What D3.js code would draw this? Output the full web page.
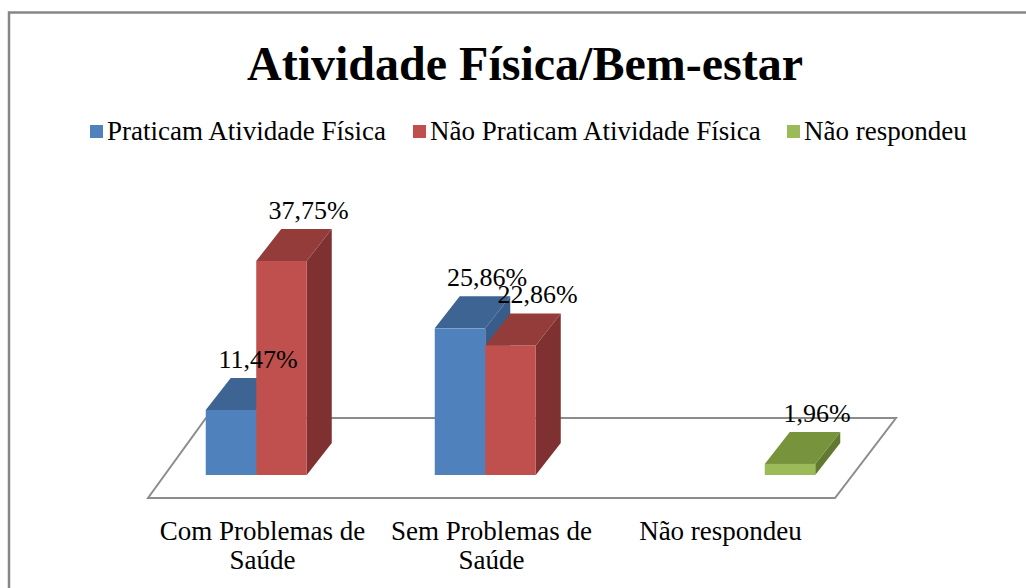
<!DOCTYPE html>
<html>
<head>
<meta charset="utf-8">
<script src="https://cdn.jsdelivr.net/npm/d3@7"></script>
<style>
  body { margin: 0; background: #fff; }
  svg text { font-family: 'Liberation Serif', 'Times New Roman', Times, 'DejaVu Serif', serif; fill: #000; }
</style>
</head>
<body>
<svg id="canvas"></svg>
<script>
let categories = [['Com Problemas de', 'Saúde'], ['Sem Problemas de', 'Saúde'], ['Não respondeu']]
let seriesNames = ['Praticam Atividade Física', 'Não Praticam Atividade Física', 'Não respondeu']
let praticam = [11.47, 25.86, null]
let naoPraticam = [37.75, 22.86, null]
let naoRespondeu = [null, null, 1.96]
let labels = [['11,47%', '25,86%', ''], ['37,75%', '22,86%', ''], ['', '', '1,96%']]

let colors = [
    { front: '#4F81BD', top: '#3D6492', side: '#385D8A' },
    { front: '#C0504D', top: '#943C3A', side: '#7E3130' },
    { front: '#9BBB59', top: '#77933C', side: '#617A30' }
]

let width = 1026
let height = 588
let baseY = 475
let depthX = 25
let depthY = -32
let serif = "'Liberation Serif', 'Times New Roman', Times, 'DejaVu Serif', serif"

let canvas = d3.select('#canvas')
canvas.attr('width', width).attr('height', height)
    .attr('font-family', serif)

// frame
canvas.append('rect')
    .attr('x', 9).attr('y', 12.5)
    .attr('width', 1030).attr('height', 600)
    .attr('fill', 'none')
    .attr('stroke', '#868686')
    .attr('stroke-width', 2.5)

canvas.append('text')
    .attr('x', 525).attr('y', 80)
    .attr('text-anchor', 'middle')
    .attr('font-size', 48)
    .attr('font-weight', 'bold')
    .text('Atividade Física/Bem-estar')

let keys = categories.map((c) => c.join(' '))
let xScale = d3.scaleBand()
    .domain(keys)
    .range([167, 854])
let xInner = d3.scaleBand()
    .domain(d3.range(seriesNames.length))
    .range([0, xScale.bandwidth()])
    .paddingOuter(0.767)
let yScale = d3.scaleLinear()
    .domain([0, 40])
    .range([baseY, baseY - 40 * 5.67])

// floor
let floorLeft = xScale.range()[0] - 19
let floorRight = xScale.range()[1] - 19
let floorFront = 498
let floorBack = 418
let floorPts = [[floorLeft, floorFront], [floorLeft + 58, floorBack], [floorRight + 61, floorBack], [floorRight, floorFront]]
canvas.append('path')
    .attr('d', d3.line()(floorPts) + 'Z')
    .attr('fill', 'none')
    .attr('stroke', '#8C8C8C')
    .attr('stroke-width', 2)

let allSeries = [praticam, naoPraticam, naoRespondeu]
let bars = []
keys.forEach((k, ci) => {
    allSeries.forEach((s, si) => {
        if (s[ci] != null) bars.push({ cat: k, si: si, value: s[ci], label: labels[si][ci] })
    })
})

let g = canvas.append('g')
bars.forEach((b) => {
    let x = xScale(b.cat) + xInner(b.si)
    let w = xInner.bandwidth()
    let y = yScale(b.value)
    let c = colors[b.si]
    // side
    g.append('path')
        .attr('d', d3.line()([[x + w, y], [x + w + depthX, y + depthY], [x + w + depthX, baseY + depthY], [x + w, baseY]]) + 'Z')
        .attr('fill', c.side)
    // top
    g.append('path')
        .attr('d', d3.line()([[x, y], [x + depthX, y + depthY], [x + w + depthX, y + depthY], [x + w, y]]) + 'Z')
        .attr('fill', c.top)
    // front
    g.append('rect')
        .attr('x', x).attr('y', y)
        .attr('width', w).attr('height', baseY - y)
        .attr('fill', c.front)
})

bars.forEach((b) => {
    let x = xScale(b.cat) + xInner(b.si) + xInner.bandwidth() / 2 + depthX + 2
    canvas.append('text')
        .attr('x', x)
        .attr('y', yScale(b.value) + depthY - 10)
        .attr('text-anchor', 'middle')
        .attr('font-size', 26)
        .text(b.label)
})

// category labels
categories.forEach((lines, i) => {
    let cx = xScale(keys[i]) - 19 + xScale.bandwidth() / 2
    let t = canvas.append('text')
        .attr('text-anchor', 'middle')
        .attr('font-size', 27)
    lines.forEach((line, j) => {
        t.append('tspan').attr('x', cx).attr('y', 540 + j * 29).text(line)
    })
})

// legend
let legendX = [90, 413, 787]
let legend = canvas.append('g')
seriesNames.forEach((name, i) => {
    legend.append('rect')
        .attr('x', legendX[i]).attr('y', 125)
        .attr('width', 13).attr('height', 13)
        .attr('fill', colors[i].front)
    legend.append('text')
        .attr('x', legendX[i] + 17).attr('y', 140)
        .attr('font-size', 27)
        .text(name)
})
</script>
</body>
</html>
